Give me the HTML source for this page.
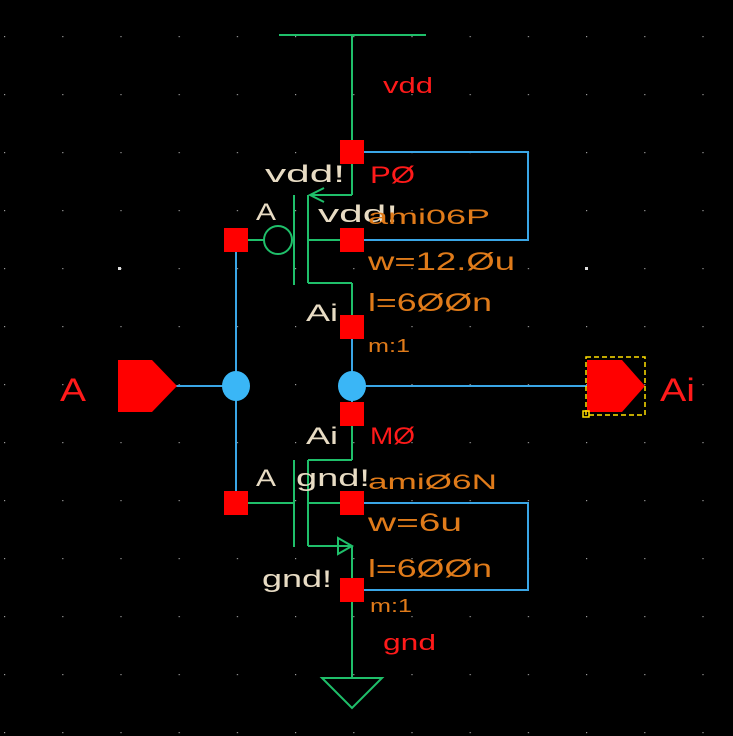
<!DOCTYPE html>
<html><head><style>
html,body{margin:0;padding:0;background:#000;}
svg{display:block}
text{font-family:"Liberation Sans",sans-serif;}
</style></head><body>
<svg width="733" height="736" viewBox="0 0 733 736" xmlns="http://www.w3.org/2000/svg">
<defs>
<pattern id="g" x="4" y="36" width="58.2" height="58" patternUnits="userSpaceOnUse">
<rect x="0" y="0" width="1.2" height="1.2" fill="#9a9a9a"/>
</pattern>
</defs>
<rect width="733" height="736" fill="#000"/>
<rect width="733" height="736" fill="url(#g)"/>
<rect x="118" y="267" width="3" height="3" fill="#ddd"/>
<rect x="585" y="267" width="3" height="3" fill="#ddd"/>

<g stroke="#1fbf6a" stroke-width="2" fill="none">
<line x1="279" y1="35" x2="426" y2="35"/>
<line x1="352" y1="35" x2="352" y2="152"/>
<line x1="352" y1="152" x2="352" y2="195"/>
<line x1="310" y1="195" x2="352" y2="195"/>
<polyline points="324,188 310,195 324,202"/>
<line x1="308" y1="195" x2="308" y2="283"/>
<line x1="294" y1="195" x2="294" y2="285"/>
<line x1="308" y1="240" x2="352" y2="240"/>
<line x1="308" y1="283" x2="352" y2="283"/>
<line x1="352" y1="283" x2="352" y2="327"/>
<circle cx="278" cy="240" r="14"/>
<line x1="248" y1="240" x2="264" y2="240"/>
<line x1="352" y1="414" x2="352" y2="460"/>
<line x1="308" y1="460" x2="352" y2="460"/>
<line x1="308" y1="460" x2="308" y2="546"/>
<line x1="294" y1="460" x2="294" y2="547"/>
<line x1="248" y1="503" x2="294" y2="503"/>
<line x1="308" y1="503" x2="352" y2="503"/>
<line x1="308" y1="546" x2="352" y2="546"/>
<polygon points="338,538 352,546 338,554"/>
<line x1="352" y1="546" x2="352" y2="678"/>
<polygon points="322,678 382,678 352,708"/>
</g>

<g stroke="#3aa6e6" stroke-width="2" fill="none">
<polyline points="352,152 528,152 528,240 352,240"/>
<polyline points="352,503 528,503 528,590 352,590"/>
<line x1="236" y1="240" x2="236" y2="503"/>
<line x1="352" y1="327" x2="352" y2="414"/>
<line x1="175" y1="386" x2="236" y2="386"/>
<line x1="352" y1="386" x2="587" y2="386"/>
</g>
<ellipse cx="236" cy="386" rx="14" ry="15" fill="#3ab6f6"/>
<ellipse cx="352" cy="386" rx="14" ry="15" fill="#3ab6f6"/>

<g fill="#ff0000">
<rect x="340" y="140" width="24" height="24"/>
<rect x="340" y="228" width="24" height="24"/>
<rect x="340" y="315" width="24" height="24"/>
<rect x="340" y="402" width="24" height="24"/>
<rect x="340" y="491" width="24" height="24"/>
<rect x="340" y="578" width="24" height="24"/>
<rect x="224" y="228" width="24" height="24"/>
<rect x="224" y="491" width="24" height="24"/>
<polygon points="118,360 152,360 177,386 152,412 118,412"/>
<polygon points="587,360 622,360 645,386 622,412 587,412"/>
</g>
<rect x="586" y="357" width="59" height="58" fill="none" stroke="#ffe000" stroke-width="1.5" stroke-dasharray="5,3"/>
<rect x="583" y="411" width="6" height="6" fill="none" stroke="#ffe000" stroke-width="1.5"/>

<g fill="#ff1a1a" font-size="22">
<text x="383" y="93" textLength="50" lengthAdjust="spacingAndGlyphs">vdd</text>
<text x="370" y="183" font-size="24" textLength="45" lengthAdjust="spacingAndGlyphs">PØ</text>
<text x="370" y="444" font-size="24" textLength="45" lengthAdjust="spacingAndGlyphs">MØ</text>
<text x="383" y="650" textLength="53" lengthAdjust="spacingAndGlyphs">gnd</text>
<text x="60" y="401" font-size="32" textLength="26" lengthAdjust="spacingAndGlyphs">A</text>
<text x="660" y="401" font-size="32" textLength="35" lengthAdjust="spacingAndGlyphs">Ai</text>
</g>
<g fill="#e8dcc4" font-size="24">
<text x="265" y="182" textLength="80" lengthAdjust="spacingAndGlyphs">vdd!</text>
<text x="256" y="220" textLength="20" lengthAdjust="spacingAndGlyphs">A</text>
<text x="318" y="222" textLength="80" lengthAdjust="spacingAndGlyphs">vdd!</text>
<text x="306" y="321" textLength="32" lengthAdjust="spacingAndGlyphs">Ai</text>
<text x="306" y="444" textLength="32" lengthAdjust="spacingAndGlyphs">Ai</text>
<text x="256" y="486" textLength="20" lengthAdjust="spacingAndGlyphs">A</text>
<text x="296" y="486" textLength="74" lengthAdjust="spacingAndGlyphs">gnd!</text>
<text x="262" y="587" textLength="70" lengthAdjust="spacingAndGlyphs">gnd!</text>
</g>
<g fill="#e07b1a">
<text x="368" y="224" font-size="21" textLength="122" lengthAdjust="spacingAndGlyphs">ami06P</text>
<text x="368" y="270" font-size="25" textLength="147" lengthAdjust="spacingAndGlyphs">w=12.Øu</text>
<text x="368" y="311" font-size="25" textLength="124" lengthAdjust="spacingAndGlyphs">l=6ØØn</text>
<text x="368" y="352" font-size="18" textLength="42" lengthAdjust="spacingAndGlyphs">m:1</text>
<text x="368" y="489" font-size="21" textLength="129" lengthAdjust="spacingAndGlyphs">amiØ6N</text>
<text x="368" y="531" font-size="25" textLength="94" lengthAdjust="spacingAndGlyphs">w=6u</text>
<text x="368" y="577" font-size="25" textLength="124" lengthAdjust="spacingAndGlyphs">l=6ØØn</text>
<text x="370" y="612" font-size="18" textLength="42" lengthAdjust="spacingAndGlyphs">m:1</text>
</g>
</svg>
</body></html>
